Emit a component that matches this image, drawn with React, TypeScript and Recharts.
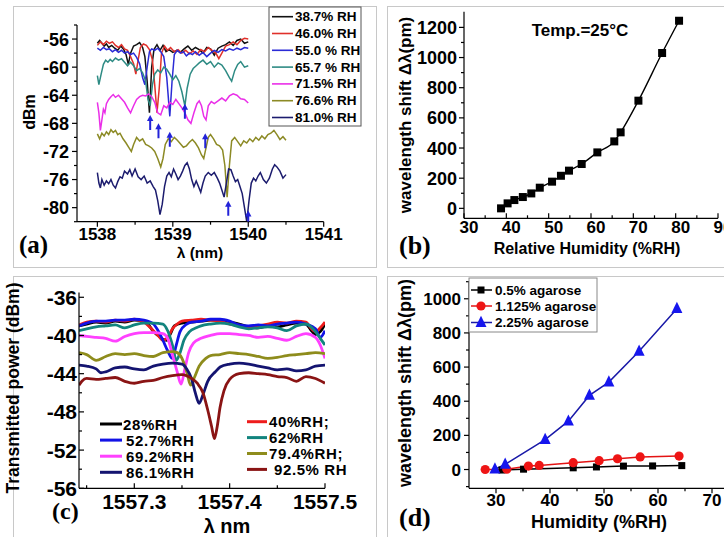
import React from 'react';
import { ComposedChart, Line, XAxis, YAxis, Scatter } from 'recharts';

const CW = 760;
const CH = 560;
const YW = 40;
const XH = 30;
const SANS = '"Liberation Sans", Arial, sans-serif';
const SERIF = '"Liberation Serif", "Times New Roman", serif';

type Pt = [number, number];

// ---------------- Panel (a) ----------------
const aLabels = ['38.7% RH', '46.0% RH', '55.0 % RH', '65.7 % RH', '71.5% RH', '76.6% RH', '81.0% RH'];
const aColors = ['#111111', '#e0302a', '#2b2bd6', '#2e8b84', '#ea2fe8', '#8c8a25', '#1c1c6e'];
const aRH387: Pt[] = [[1538.00,-56.6],[1538.03,-56.2],[1538.06,-56.6],[1538.09,-57.0],[1538.12,-56.7],[1538.15,-57.2],[1538.19,-56.9],[1538.23,-57.3],[1538.27,-57.6],[1538.31,-57.0],[1538.35,-57.5],[1538.38,-58.2],[1538.41,-59.6],[1538.44,-58.0],[1538.48,-57.0],[1538.52,-56.8],[1538.56,-56.5],[1538.60,-57.2],[1538.63,-58.5],[1538.66,-62.0],[1538.69,-66.5],[1538.72,-60.0],[1538.75,-57.5],[1538.79,-56.8],[1538.83,-57.6],[1538.87,-56.9],[1538.91,-57.8],[1538.95,-57.5],[1539.00,-57.9],[1539.05,-57.6],[1539.10,-57.9],[1539.15,-57.4],[1539.20,-57.0],[1539.25,-57.6],[1539.30,-57.2],[1539.35,-57.5],[1539.40,-58.0],[1539.45,-57.2],[1539.50,-57.4],[1539.55,-58.3],[1539.60,-57.3],[1539.65,-57.0],[1539.70,-56.8],[1539.75,-56.4],[1539.80,-56.9],[1539.85,-56.2],[1539.90,-56.0],[1539.95,-56.6],[1540.00,-56.4]];
const aRH460: Pt[] = [[1538.00,-56.9],[1538.04,-56.4],[1538.08,-56.8],[1538.12,-56.3],[1538.16,-56.6],[1538.20,-56.4],[1538.24,-56.9],[1538.28,-57.2],[1538.32,-56.8],[1538.36,-57.4],[1538.40,-57.6],[1538.44,-58.5],[1538.48,-59.5],[1538.51,-61.0],[1538.54,-59.0],[1538.57,-57.2],[1538.61,-56.7],[1538.65,-56.9],[1538.69,-57.5],[1538.73,-59.0],[1538.76,-62.5],[1538.79,-66.5],[1538.82,-63.0],[1538.85,-58.0],[1538.89,-57.0],[1538.93,-57.6],[1538.97,-57.2],[1539.02,-57.8],[1539.07,-57.5],[1539.12,-58.0],[1539.17,-57.6],[1539.22,-58.1],[1539.27,-57.7],[1539.32,-58.2],[1539.37,-57.5],[1539.42,-57.8],[1539.47,-57.2],[1539.52,-57.6],[1539.57,-58.0],[1539.61,-58.8],[1539.65,-58.0],[1539.70,-57.0],[1539.75,-56.8],[1539.80,-56.4],[1539.85,-56.8],[1539.90,-56.2],[1539.95,-55.9],[1540.00,-56.0]];
const aRH550: Pt[] = [[1538.00,-57.3],[1538.04,-57.6],[1538.08,-57.2],[1538.12,-57.5],[1538.16,-57.4],[1538.20,-57.8],[1538.24,-57.5],[1538.28,-57.9],[1538.32,-57.6],[1538.36,-58.0],[1538.40,-57.8],[1538.44,-58.2],[1538.48,-58.0],[1538.52,-58.6],[1538.56,-59.5],[1538.60,-61.5],[1538.63,-62.5],[1538.66,-60.0],[1538.69,-57.8],[1538.72,-57.4],[1538.76,-57.6],[1538.80,-57.3],[1538.84,-57.8],[1538.88,-58.5],[1538.92,-61.5],[1538.96,-67.0],[1538.99,-62.0],[1539.02,-58.2],[1539.06,-57.6],[1539.10,-58.0],[1539.14,-57.8],[1539.18,-58.4],[1539.22,-58.0],[1539.26,-58.2],[1539.30,-57.8],[1539.35,-58.3],[1539.40,-57.9],[1539.45,-58.5],[1539.50,-58.0],[1539.55,-57.6],[1539.60,-57.9],[1539.65,-57.5],[1539.70,-57.7],[1539.75,-57.4],[1539.80,-57.6],[1539.85,-57.3],[1539.90,-57.5],[1539.95,-57.2],[1540.00,-57.3]];
const aRH657: Pt[] = [[1538.00,-61.2],[1538.02,-62.5],[1538.05,-61.0],[1538.08,-59.6],[1538.11,-59.0],[1538.14,-59.3],[1538.17,-58.9],[1538.20,-59.2],[1538.24,-58.7],[1538.28,-59.0],[1538.32,-58.8],[1538.36,-59.3],[1538.40,-59.8],[1538.44,-59.3],[1538.48,-59.8],[1538.52,-60.5],[1538.56,-60.2],[1538.60,-60.8],[1538.64,-62.0],[1538.67,-64.5],[1538.70,-65.5],[1538.73,-62.5],[1538.76,-61.0],[1538.80,-60.4],[1538.84,-60.8],[1538.88,-60.0],[1538.92,-60.3],[1538.96,-61.0],[1539.00,-61.8],[1539.04,-61.2],[1539.08,-62.0],[1539.12,-63.5],[1539.16,-65.5],[1539.19,-63.0],[1539.23,-61.0],[1539.27,-60.2],[1539.31,-59.8],[1539.35,-59.4],[1539.40,-59.0],[1539.45,-59.6],[1539.50,-59.2],[1539.55,-60.0],[1539.60,-59.4],[1539.65,-59.7],[1539.70,-60.5],[1539.75,-61.5],[1539.78,-62.0],[1539.82,-60.5],[1539.86,-59.6],[1539.90,-59.2],[1539.95,-60.0],[1540.00,-59.8]];
const aRH715: Pt[] = [[1538.00,-65.0],[1538.02,-66.5],[1538.04,-69.0],[1538.06,-67.5],[1538.08,-66.0],[1538.10,-66.5],[1538.12,-65.2],[1538.15,-64.6],[1538.18,-64.2],[1538.21,-63.9],[1538.24,-64.3],[1538.28,-64.0],[1538.32,-64.5],[1538.36,-65.0],[1538.40,-65.8],[1538.44,-66.5],[1538.48,-65.5],[1538.52,-64.6],[1538.56,-64.2],[1538.60,-64.0],[1538.64,-64.1],[1538.68,-63.8],[1538.72,-64.2],[1538.76,-65.0],[1538.80,-66.5],[1538.84,-66.8],[1538.88,-65.5],[1538.92,-65.8],[1538.96,-65.0],[1539.00,-65.3],[1539.04,-64.6],[1539.08,-65.2],[1539.12,-65.8],[1539.16,-66.5],[1539.20,-67.5],[1539.24,-68.0],[1539.28,-66.5],[1539.32,-65.2],[1539.35,-64.8],[1539.38,-65.5],[1539.41,-67.0],[1539.44,-67.5],[1539.47,-65.5],[1539.51,-64.9],[1539.55,-65.2],[1539.60,-64.8],[1539.65,-64.4],[1539.70,-64.8],[1539.75,-64.1],[1539.80,-63.8],[1539.85,-64.0],[1539.90,-64.5],[1539.95,-64.6],[1540.00,-65.1]];
const aRH766: Pt[] = [[1538.00,-69.5],[1538.03,-70.2],[1538.06,-69.4],[1538.09,-69.8],[1538.12,-69.2],[1538.15,-69.6],[1538.18,-68.9],[1538.21,-69.3],[1538.24,-69.0],[1538.27,-69.6],[1538.30,-69.4],[1538.34,-70.2],[1538.38,-70.8],[1538.42,-71.5],[1538.45,-72.0],[1538.48,-71.0],[1538.52,-70.0],[1538.56,-70.5],[1538.60,-70.2],[1538.64,-71.0],[1538.68,-71.2],[1538.72,-71.5],[1538.76,-72.0],[1538.80,-73.0],[1538.84,-74.2],[1538.87,-73.0],[1538.90,-71.0],[1538.94,-70.2],[1538.98,-70.6],[1539.02,-70.0],[1539.06,-70.4],[1539.10,-70.9],[1539.14,-71.4],[1539.18,-71.2],[1539.22,-70.7],[1539.26,-70.3],[1539.30,-70.8],[1539.34,-71.5],[1539.38,-72.5],[1539.41,-73.0],[1539.44,-71.5],[1539.47,-70.0],[1539.50,-69.6],[1539.54,-70.2],[1539.58,-71.0],[1539.62,-71.2],[1539.66,-71.8],[1539.69,-74.0],[1539.72,-78.5],[1539.75,-74.0],[1539.78,-70.5],[1539.82,-70.0],[1539.86,-70.6],[1539.90,-71.2],[1539.94,-70.5],[1539.98,-70.8],[1540.02,-70.2],[1540.06,-70.6],[1540.10,-70.0],[1540.14,-70.4],[1540.18,-69.8],[1540.22,-70.2],[1540.26,-69.6],[1540.30,-69.4],[1540.34,-69.0],[1540.38,-69.6],[1540.42,-70.3],[1540.46,-69.9],[1540.50,-70.4]];
const aRH810: Pt[] = [[1538.00,-75.0],[1538.02,-76.5],[1538.04,-77.2],[1538.06,-76.0],[1538.09,-76.8],[1538.12,-76.2],[1538.15,-76.6],[1538.18,-76.0],[1538.21,-76.8],[1538.24,-77.2],[1538.27,-76.3],[1538.30,-75.6],[1538.33,-75.8],[1538.36,-74.8],[1538.40,-75.2],[1538.43,-74.6],[1538.46,-75.5],[1538.50,-74.5],[1538.54,-75.6],[1538.58,-76.0],[1538.62,-75.5],[1538.66,-76.5],[1538.70,-76.2],[1538.74,-77.0],[1538.77,-77.5],[1538.80,-79.0],[1538.83,-81.0],[1538.86,-79.5],[1538.89,-77.0],[1538.92,-75.5],[1538.95,-75.0],[1538.98,-75.6],[1539.01,-74.5],[1539.04,-75.2],[1539.07,-76.0],[1539.10,-75.5],[1539.13,-74.8],[1539.16,-74.0],[1539.19,-73.6],[1539.22,-74.5],[1539.25,-76.0],[1539.28,-77.0],[1539.31,-76.2],[1539.34,-77.0],[1539.37,-77.8],[1539.40,-76.5],[1539.43,-75.5],[1539.47,-75.0],[1539.51,-75.4],[1539.55,-75.0],[1539.59,-75.8],[1539.62,-76.5],[1539.65,-77.5],[1539.68,-78.5],[1539.71,-76.5],[1539.74,-74.5],[1539.77,-74.6],[1539.80,-75.5],[1539.83,-76.3],[1539.86,-76.0],[1539.89,-77.0],[1539.92,-78.0],[1539.95,-80.0],[1539.98,-82.0],[1540.01,-79.0],[1540.04,-76.5],[1540.07,-75.8],[1540.10,-76.2],[1540.13,-75.5],[1540.16,-75.0],[1540.20,-76.0],[1540.24,-76.5],[1540.28,-75.8],[1540.32,-74.5],[1540.35,-73.9],[1540.38,-74.2],[1540.42,-74.8],[1540.46,-75.8],[1540.50,-75.3]];
const aArrows: Pt[] = [[1538.70,-66.8],[1538.81,-68.0],[1538.96,-69.2],[1539.16,-65.2],[1539.43,-69.4],[1539.735,-79.0],[1540.0,-80.4]];
const aXTicks = [1538, 1538.5, 1539, 1539.5, 1540, 1540.5, 1541];
const aXMajor = [1538, 1539, 1540, 1541];
const aYTicks = [-82, -80, -78, -76, -74, -72, -70, -68, -66, -64, -62, -60, -58, -56, -54];
const aYMajor = [-80, -76, -72, -68, -64, -60, -56];

// ---------------- Panel (b) ----------------
const bRH = [38.75, 40.3, 41.9, 43.9, 45.9, 47.9, 50.8, 52.9, 54.8, 57.8, 61.5, 65.5, 67.0, 71.2, 76.8, 80.8];
const bShift = [0, 33, 55, 75, 99, 137, 177, 216, 250, 294, 371, 444, 504, 714, 1030, 1244];
const bXTicks = [30, 35, 40, 45, 50, 55, 60, 65, 70, 75, 80, 85, 90];
const bXMajor = [30, 40, 50, 60, 70, 80, 90];
const bYTicks = [0, 100, 200, 300, 400, 500, 600, 700, 800, 900, 1000, 1100, 1200];
const bYMajor = [0, 200, 400, 600, 800, 1000, 1200];

// ---------------- Panel (c) ----------------
const cLabels = ['28%RH', '40%RH;', '52.7%RH', '62%RH', '69.2%RH', '79.4%RH;', '86.1%RH', '92.5% RH'];
const cColors = ['#000000', '#ee1c1c', '#1212e6', '#12847e', '#ff40ff', '#8e8c1c', '#141470', '#8a1414'];
const cRH28: Pt[] = [[1557.242,-39.0],[1557.25,-38.8],[1557.26,-38.6],[1557.27,-38.7],[1557.28,-38.5],[1557.29,-38.6],[1557.30,-38.4],[1557.31,-38.5],[1557.315,-38.9],[1557.32,-39.6],[1557.325,-40.0],[1557.33,-40.4],[1557.334,-40.5],[1557.338,-39.8],[1557.342,-39.0],[1557.35,-38.7],[1557.36,-38.6],[1557.37,-38.5],[1557.38,-38.4],[1557.39,-38.4],[1557.40,-38.6],[1557.41,-38.8],[1557.42,-39.1],[1557.43,-39.2],[1557.44,-39.0],[1557.45,-39.1],[1557.46,-38.9],[1557.47,-38.7],[1557.48,-38.8],[1557.485,-39.4],[1557.49,-39.9],[1557.495,-39.6],[1557.50,-38.8]];
const cRH40: Pt[] = [[1557.242,-38.9],[1557.25,-38.6],[1557.26,-38.5],[1557.27,-38.6],[1557.28,-38.4],[1557.29,-38.5],[1557.30,-38.3],[1557.31,-38.6],[1557.315,-39.0],[1557.32,-39.5],[1557.325,-40.0],[1557.33,-40.5],[1557.335,-40.2],[1557.34,-39.3],[1557.345,-38.8],[1557.35,-38.5],[1557.36,-38.4],[1557.37,-38.3],[1557.38,-38.4],[1557.39,-38.5],[1557.40,-38.8],[1557.41,-39.0],[1557.42,-39.2],[1557.43,-39.0],[1557.44,-38.8],[1557.45,-38.6],[1557.46,-38.7],[1557.47,-38.5],[1557.48,-38.6],[1557.485,-39.2],[1557.49,-39.6],[1557.495,-39.2],[1557.50,-38.6]];
const cRH527: Pt[] = [[1557.242,-39.0],[1557.25,-38.7],[1557.26,-38.5],[1557.27,-38.5],[1557.28,-38.4],[1557.29,-38.4],[1557.30,-38.3],[1557.31,-38.4],[1557.32,-38.8],[1557.325,-39.5],[1557.33,-40.5],[1557.335,-41.6],[1557.34,-42.4],[1557.344,-41.0],[1557.348,-39.6],[1557.355,-38.8],[1557.36,-38.6],[1557.37,-38.5],[1557.38,-38.3],[1557.39,-38.3],[1557.40,-38.5],[1557.41,-38.9],[1557.42,-39.0],[1557.43,-38.9],[1557.44,-39.0],[1557.45,-38.8],[1557.46,-38.7],[1557.47,-38.6],[1557.48,-38.8],[1557.49,-39.3],[1557.495,-40.2],[1557.50,-39.5]];
const cRH62: Pt[] = [[1557.242,-39.5],[1557.25,-39.3],[1557.26,-39.1],[1557.27,-39.0],[1557.28,-38.9],[1557.29,-39.2],[1557.30,-38.9],[1557.31,-38.7],[1557.32,-38.7],[1557.33,-38.8],[1557.335,-39.5],[1557.34,-41.0],[1557.344,-42.6],[1557.348,-41.8],[1557.352,-40.5],[1557.358,-39.6],[1557.365,-39.2],[1557.37,-39.0],[1557.38,-38.8],[1557.39,-38.7],[1557.40,-38.8],[1557.41,-39.1],[1557.42,-39.3],[1557.43,-39.2],[1557.44,-39.1],[1557.45,-39.2],[1557.46,-39.5],[1557.47,-39.0],[1557.48,-38.8],[1557.49,-39.6],[1557.495,-40.3],[1557.50,-41.0]];
const cRH692: Pt[] = [[1557.242,-40.0],[1557.25,-40.1],[1557.26,-40.2],[1557.27,-40.3],[1557.28,-40.6],[1557.29,-40.1],[1557.30,-39.8],[1557.31,-39.7],[1557.32,-39.7],[1557.33,-39.8],[1557.335,-40.3],[1557.34,-42.0],[1557.345,-43.8],[1557.349,-45.1],[1557.353,-43.5],[1557.357,-41.8],[1557.362,-40.8],[1557.37,-40.3],[1557.38,-40.0],[1557.39,-39.8],[1557.40,-39.8],[1557.41,-39.9],[1557.42,-40.0],[1557.43,-40.2],[1557.44,-40.1],[1557.45,-40.3],[1557.46,-40.5],[1557.47,-40.1],[1557.48,-39.8],[1557.49,-40.2],[1557.495,-41.0],[1557.50,-42.4]];
const cRH794: Pt[] = [[1557.242,-41.8],[1557.25,-42.0],[1557.26,-42.6],[1557.27,-42.2],[1557.28,-41.9],[1557.29,-42.0],[1557.30,-41.9],[1557.31,-42.1],[1557.32,-42.2],[1557.33,-41.8],[1557.34,-41.7],[1557.345,-41.8],[1557.35,-42.4],[1557.355,-43.8],[1557.359,-45.2],[1557.363,-44.4],[1557.368,-43.2],[1557.375,-42.4],[1557.38,-42.1],[1557.39,-42.0],[1557.40,-41.8],[1557.41,-41.9],[1557.42,-42.0],[1557.43,-42.2],[1557.44,-42.4],[1557.45,-42.3],[1557.46,-42.1],[1557.47,-42.0],[1557.48,-41.9],[1557.49,-41.8],[1557.50,-41.9]];
const cRH861: Pt[] = [[1557.242,-43.1],[1557.25,-43.2],[1557.26,-43.5],[1557.265,-43.9],[1557.27,-43.8],[1557.28,-43.4],[1557.29,-43.3],[1557.30,-43.5],[1557.31,-43.6],[1557.32,-43.2],[1557.33,-43.0],[1557.34,-42.9],[1557.35,-43.0],[1557.355,-43.5],[1557.36,-44.5],[1557.364,-46.0],[1557.368,-47.1],[1557.372,-46.2],[1557.377,-44.8],[1557.385,-43.8],[1557.39,-43.3],[1557.40,-43.0],[1557.41,-42.9],[1557.42,-43.0],[1557.43,-43.2],[1557.44,-43.4],[1557.45,-43.6],[1557.46,-43.5],[1557.47,-43.7],[1557.48,-43.6],[1557.49,-43.2],[1557.50,-43.1]];
const cRH925: Pt[] = [[1557.242,-45.2],[1557.245,-44.8],[1557.25,-44.5],[1557.26,-44.6],[1557.27,-44.5],[1557.28,-44.4],[1557.29,-44.8],[1557.30,-45.0],[1557.31,-44.8],[1557.32,-44.7],[1557.33,-44.4],[1557.34,-44.2],[1557.35,-44.1],[1557.36,-44.5],[1557.366,-45.0],[1557.372,-46.0],[1557.377,-47.8],[1557.381,-49.5],[1557.384,-50.8],[1557.387,-49.5],[1557.39,-47.5],[1557.394,-45.8],[1557.40,-44.6],[1557.41,-44.0],[1557.42,-43.9],[1557.43,-44.0],[1557.44,-44.1],[1557.45,-44.3],[1557.46,-44.4],[1557.47,-44.8],[1557.48,-44.3],[1557.49,-44.5],[1557.50,-45.0]];
const cXTicks = [1557.25, 1557.3, 1557.35, 1557.4, 1557.45, 1557.5];
const cXMajor = [1557.3, 1557.4, 1557.5];
const cYTicks = [-56, -54, -52, -50, -48, -46, -44, -42, -40, -38, -36];
const cYMajor = [-56, -52, -48, -44, -40, -36];

// ---------------- Panel (d) ----------------
const dLabels = ['0.5% agarose', '1.125% agarose', '2.25% agarose'];
const dRH05 = [31.1, 35.1, 44.3, 48.6, 53.6, 59.0, 64.4];
const dShift05 = [-3, 2, 10, 15, 20, 21, 23];
const dRH1125 = [28.0, 32.0, 36.0, 38.0, 44.3, 49.1, 52.5, 56.7, 63.9];
const dShift1125 = [0, 2, 20, 24, 40, 52, 63, 74, 79];
const dRH225 = [29.8, 31.7, 39.1, 43.4, 47.3, 50.9, 56.5, 63.5];
const dShift225 = [2, 30, 175, 283, 434, 512, 692, 942];
const dXTicks = [30, 35, 40, 45, 50, 55, 60, 65, 70, 75];
const dXMajor = [30, 40, 50, 60, 70];
const dYTicks = [-100, 0, 100, 200, 300, 400, 500, 600, 700, 800, 900, 1000, 1100];
const dYMajor = [0, 200, 400, 600, 800, 1000];

// ---------------- helpers ----------------
const toXY = (pts: Pt[]) => pts.map(([x, y]) => ({ x, y }));
const zipXY = (xs: number[], ys: number[]) => xs.map((x, i) => ({ x, y: ys[i] }));
const mg = (x0: number, y0: number, x1: number, y1: number) => ({ left: x0 - YW, top: y0, right: CW - x1, bottom: CH - y1 - XH });

type TickOpt = { axis: 'x' | 'y'; majors: number[]; fs: number; dir: 'in' | 'out'; gap: number; dx?: number; fmt: (v: number) => string; len?: number };
function makeTick(o: TickOpt) {
  return (p: any) => {
    const { x, y, payload } = p;
    const v = payload.value as number;
    const isMajor = o.majors.some((m) => Math.abs(m - v) < 1e-6);
    const L = o.len ?? 5;
    const len = isMajor ? L : L * 0.6;
    const s = o.dir === 'out' ? 1 : -1;
    if (o.axis === 'y') {
      return (
        <g>
          <line x1={x} x2={x - s * len} y1={y} y2={y} stroke="#000" strokeWidth={1.2} />
          {isMajor && (
            <text x={x - o.gap + (o.dx || 0)} y={y} dy="0.36em" textAnchor="end" fontFamily={SANS} fontWeight="bold" fontSize={o.fs} fill="#000">
              {o.fmt(v)}
            </text>
          )}
        </g>
      );
    }
    return (
      <g>
        <line x1={x} x2={x} y1={y} y2={y + s * len} stroke="#000" strokeWidth={1.2} />
        {isMajor && (
          <text x={x + (o.dx || 0)} y={y + o.gap} dy="0.72em" textAnchor="middle" fontFamily={SANS} fontWeight="bold" fontSize={o.fs} fill="#000">
            {o.fmt(v)}
          </text>
        )}
      </g>
    );
  };
}

const axisCommon = { tickSize: 0, tickMargin: 0, tickLine: false, interval: 0 as const, allowDataOverflow: true, axisLine: { stroke: '#000', strokeWidth: 1.2 } };

const Arrow = (p: any) => {
  const { cx, cy } = p;
  if (cx == null || cy == null) return <g />;
  return (
    <g>
      <line x1={cx} x2={cx} y1={cy + 4} y2={cy + 15} stroke="#2323d8" strokeWidth={2} />
      <polygon points={`${cx},${cy} ${cx - 3.2},${cy + 6} ${cx + 3.2},${cy + 6}`} fill="#2323d8" />
    </g>
  );
};

const sq = (size: number, fill: string) => (p: any) =>
  p.cx == null ? <g key={`s${p.index}`} /> : <rect key={`s${p.index}`} x={p.cx - size / 2} y={p.cy - size / 2} width={size} height={size} fill={fill} />;
const circ = (r: number, fill: string) => (p: any) =>
  p.cx == null ? <g key={`c${p.index}`} /> : <circle key={`c${p.index}`} cx={p.cx} cy={p.cy} r={r} fill={fill} />;
const tri = (s: number, fill: string) => (p: any) =>
  p.cx == null ? <g key={`t${p.index}`} /> : (
    <polygon key={`t${p.index}`} points={`${p.cx},${p.cy - s * 0.62} ${p.cx - s / 2},${p.cy + s * 0.4} ${p.cx + s / 2},${p.cy + s * 0.4}`} fill={fill} />
  );

const abs: React.CSSProperties = { position: 'absolute', left: 0, top: 0 };

function PanelA() {
  const series = [aRH387, aRH460, aRH550, aRH657, aRH715, aRH766, aRH810];
  return (
    <div style={abs}>
      <ComposedChart width={CW} height={CH} margin={mg(77, 25, 323.7, 221.7)}>
        <XAxis type="number" dataKey="x" domain={[1537.73, 1541]} ticks={aXTicks} height={XH} {...axisCommon}
          tick={makeTick({ axis: 'x', majors: aXMajor, fs: 17, dir: 'out', gap: 6, fmt: (v) => String(v) })} />
        <YAxis type="number" dataKey="y" domain={[-82, -54]} ticks={aYTicks} width={YW} {...axisCommon}
          tick={makeTick({ axis: 'y', majors: aYMajor, fs: 18, dir: 'out', gap: 8, fmt: (v) => String(v) })} />
        {series.map((s, i) => (
          <Line key={aLabels[i]} data={toXY(s)} dataKey="y" type="linear" stroke={aColors[i]} strokeWidth={1.5} dot={false} isAnimationActive={false} />
        ))}
        <Scatter data={toXY(aArrows)} dataKey="y" shape={Arrow} isAnimationActive={false} />
      </ComposedChart>
    </div>
  );
}

function PanelB() {
  return (
    <div style={abs}>
      <ComposedChart width={CW} height={CH} margin={mg(464, 11.7, 718, 218.3)}>
        <XAxis type="number" dataKey="x" domain={[30, 90]} ticks={bXTicks} height={XH} {...axisCommon}
          tick={makeTick({ axis: 'x', majors: bXMajor, fs: 17, dir: 'in', gap: 2, dx: 5, fmt: (v) => String(v) })} />
        <YAxis type="number" dataKey="y" domain={[-66, 1304]} ticks={bYTicks} width={YW} {...axisCommon}
          tick={makeTick({ axis: 'y', majors: bYMajor, fs: 18, dir: 'out', gap: 7, fmt: (v) => String(v) })} />
        <Line data={zipXY(bRH, bShift)} dataKey="y" type="monotone" stroke="#000" strokeWidth={1.4} dot={sq(8, '#000')} isAnimationActive={false} />
      </ComposedChart>
    </div>
  );
}

function PanelC() {
  const series = [cRH28, cRH40, cRH527, cRH62, cRH692, cRH794, cRH861, cRH925];
  return (
    <div style={abs}>
      <ComposedChart width={CW} height={CH} margin={mg(79, 292.5, 325, 488.3)}>
        <XAxis type="number" dataKey="x" domain={[1557.242, 1557.5]} ticks={cXTicks} height={XH} {...axisCommon}
          tick={makeTick({ axis: 'x', majors: cXMajor, fs: 21, dir: 'in', gap: 6, fmt: (v) => v.toFixed(1) })} />
        <YAxis type="number" dataKey="y" domain={[-56, -35.5]} ticks={cYTicks} width={YW} {...axisCommon}
          tick={makeTick({ axis: 'y', majors: cYMajor, fs: 21, dir: 'in', gap: 2, fmt: (v) => String(v) })} />
        {series.map((s, i) => (
          <Line key={cLabels[i]} data={toXY(s)} dataKey="y" type="monotone" stroke={cColors[i]} strokeWidth={2.8} dot={false} isAnimationActive={false} />
        ))}
      </ComposedChart>
    </div>
  );
}

function PanelD() {
  return (
    <div style={abs}>
      <ComposedChart width={CW} height={CH} margin={mg(469, 281.7, 739, 488.3)}>
        <XAxis type="number" dataKey="x" domain={[25, 75]} ticks={dXTicks} height={XH} {...axisCommon}
          tick={makeTick({ axis: 'x', majors: dXMajor, fs: 17, dir: 'out', gap: 5, fmt: (v) => String(v) })} />
        <YAxis type="number" dataKey="y" domain={[-110, 1100]} ticks={dYTicks} width={YW} {...axisCommon}
          tick={makeTick({ axis: 'y', majors: dYMajor, fs: 17, dir: 'out', gap: 8, fmt: (v) => String(v) })} />
        <Line data={zipXY(dRH05, dShift05)} dataKey="y" type="linear" stroke="#000" strokeWidth={1.5} dot={sq(7, '#000')} isAnimationActive={false} />
        <Line data={zipXY(dRH1125, dShift1125)} dataKey="y" type="linear" stroke="#e41414" strokeWidth={1.5} dot={circ(4.6, '#ee1515')} isAnimationActive={false} />
        <Line data={zipXY(dRH225, dShift225)} dataKey="y" type="linear" stroke="#1a1aa8" strokeWidth={1.5} dot={tri(11, '#1616ee')} isAnimationActive={false} />
      </ComposedChart>
    </div>
  );
}

const txt = { fontFamily: SANS, fontWeight: 'bold' as const, fill: '#000' };

function Overlay() {
  return (
    <svg width={724} height={537} style={{ position: 'absolute', left: 0, top: 0 }}>
      {/* Panel a */}
      <text transform="translate(29,112) rotate(-90)" textAnchor="middle" dominantBaseline="central" fontSize={16} {...txt}>dBm</text>
      <text x={200} y={252} textAnchor="middle" dominantBaseline="central" fontSize={15.5} {...txt}>λ (nm)</text>
      <text x={19} y={253} fontFamily={SERIF} fontWeight="bold" fontSize={25} fill="#000">(a)</text>
      <rect x={269} y={7} width={92} height={119} fill="#fff" stroke="#555" strokeWidth={1} />
      {aLabels.map((l, i) => (
        <g key={l}>
          <line x1={272} x2={293} y1={16.7 + i * 16.8} y2={16.7 + i * 16.8} stroke={aColors[i]} strokeWidth={1.6} />
          <text x={295} y={16.7 + i * 16.8} dominantBaseline="central" fontSize={13.5} {...txt}>{l}</text>
        </g>
      ))}
      {/* Panel b */}
      <text transform="translate(405,115) rotate(-90)" textAnchor="middle" dominantBaseline="central" fontSize={17} {...txt}>wavelength shift Δλ(pm)</text>
      <text x={587} y={248} textAnchor="middle" dominantBaseline="central" fontSize={16} {...txt}>Relative Humidity (%RH)</text>
      <text x={580} y={30} textAnchor="middle" dominantBaseline="central" fontSize={17} {...txt}>Temp.=25°C</text>
      <text x={399} y={254} fontFamily={SERIF} fontWeight="bold" fontSize={26} fill="#000">(b)</text>
      {/* Panel c */}
      <text transform="translate(13,388) rotate(-90)" textAnchor="middle" dominantBaseline="central" fontSize={17.5} {...txt}>Transmitted power (dBm)</text>
      <text x={227} y={526} textAnchor="middle" dominantBaseline="central" fontSize={20} {...txt}>λ nm</text>
      <text x={52} y={519} fontFamily={SERIF} fontWeight="bold" fontSize={24} fill="#000">(c)</text>
      {[0, 2, 4, 6].map((si, k) => (
        <g key={cLabels[si]}>
          <line x1={100} x2={122} y1={424 + k * 16.1} y2={424 + k * 16.1} stroke={cColors[si]} strokeWidth={3} />
          <text x={k === 0 ? 123 : 126} y={424 + k * 16.1} dominantBaseline="central" fontSize={15} letterSpacing={0.6} {...txt}>{cLabels[si]}</text>
        </g>
      ))}
      {[1, 3, 5, 7].map((si, k) => (
        <g key={cLabels[si]}>
          <line x1={247} x2={267} y1={421.7 + k * 15.9} y2={421.7 + k * 15.9} stroke={cColors[si]} strokeWidth={3} />
          <text x={si === 7 ? 274 : 269} y={421.7 + k * 15.9} dominantBaseline="central" fontSize={15} letterSpacing={0.6} {...txt}>{cLabels[si]}</text>
        </g>
      ))}
      {/* Panel d */}
      <text transform="translate(405,383) rotate(-90)" textAnchor="middle" dominantBaseline="central" fontSize={18} {...txt}>wavelength shift Δλ(pm)</text>
      <text x={599} y={522} textAnchor="middle" dominantBaseline="central" fontSize={18} {...txt}>Humidity (%RH)</text>
      <text x={399} y={526} fontFamily={SERIF} fontWeight="bold" fontSize={26} fill="#000">(d)</text>
      <rect x={469} y={278} width={128} height={54} fill="#fff" stroke="#888" strokeWidth={1} />
      <line x1={471} x2={492} y1={290} y2={290} stroke="#000" strokeWidth={1.5} />
      <rect x={477.5} y={286.5} width={7} height={7} fill="#000" />
      <text x={495} y={290} dominantBaseline="central" fontSize={13.5} {...txt}>{dLabels[0]}</text>
      <line x1={471} x2={492} y1={306} y2={306} stroke="#e41414" strokeWidth={1.5} />
      <circle cx={481} cy={306} r={4.6} fill="#ee1515" />
      <text x={495} y={306} dominantBaseline="central" fontSize={13.5} {...txt}>{dLabels[1]}</text>
      <line x1={471} x2={492} y1={322.5} y2={322.5} stroke="#1a1aa8" strokeWidth={1.5} />
      <polygon points="481,315.7 475.5,326.9 486.5,326.9" fill="#1616ee" />
      <text x={495} y={322.5} dominantBaseline="central" fontSize={13.5} {...txt}>{dLabels[2]}</text>
    </svg>
  );
}

const frame = (l: number, t: number, w: number, h: number): React.CSSProperties => ({
  position: 'absolute', left: l, top: t, width: w, height: h, border: '1.5px solid #c8c8c8', boxSizing: 'border-box',
});

export default function App() {
  return (
    <div style={{ position: 'absolute', left: 0, top: 0, width: 724, height: 537, overflow: 'hidden', background: '#fff' }}>
      <div style={frame(12.5, 5.5, 364, 262)} />
      <div style={frame(387, 5.5, 400, 262)} />
      <div style={frame(12.5, 276, 364, 300)} />
      <div style={frame(387, 276, 400, 300)} />
      <PanelA />
      <PanelB />
      <PanelC />
      <PanelD />
      <Overlay />
    </div>
  );
}
